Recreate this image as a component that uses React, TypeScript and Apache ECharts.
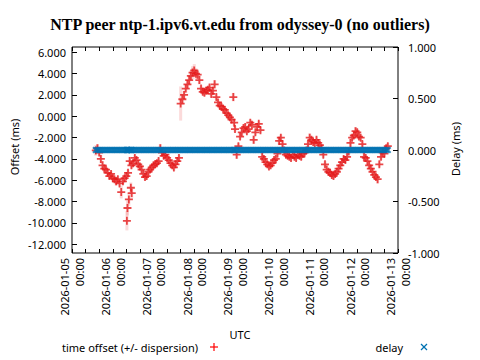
import React, { useEffect, useRef } from "react";
import * as echarts from "echarts";

const timeLabels: string[] = [
  "2026-01-05 14:00", "2026-01-05 15:00", "2026-01-05 16:00", "2026-01-05 17:00", "2026-01-05 18:00",
  "2026-01-05 19:00", "2026-01-05 20:00", "2026-01-05 21:00", "2026-01-05 22:00", "2026-01-05 23:00",

  "2026-01-06 00:00", "2026-01-06 01:00", "2026-01-06 02:00", "2026-01-06 03:00", "2026-01-06 04:00",
  "2026-01-06 05:00", "2026-01-06 06:00", "2026-01-06 07:00", "2026-01-06 08:00", "2026-01-06 08:20",
  "2026-01-06 08:40", "2026-01-06 09:00", "2026-01-06 09:30", "2026-01-06 10:00", "2026-01-06 10:40",
  "2026-01-06 11:00", "2026-01-06 11:10", "2026-01-06 12:00", "2026-01-06 13:00", "2026-01-06 14:00",
  "2026-01-06 15:00", "2026-01-06 16:00", "2026-01-06 17:00", "2026-01-06 18:00", "2026-01-06 19:00",
  "2026-01-06 20:00", "2026-01-06 21:00", "2026-01-06 22:00", "2026-01-06 23:00",

  "2026-01-07 00:00", "2026-01-07 01:00", "2026-01-07 02:00", "2026-01-07 03:00", "2026-01-07 04:00",
  "2026-01-07 05:00", "2026-01-07 06:00", "2026-01-07 07:00", "2026-01-07 08:00", "2026-01-07 09:00",
  "2026-01-07 10:00", "2026-01-07 11:00", "2026-01-07 12:00", "2026-01-07 13:00", "2026-01-07 14:00",
  "2026-01-07 15:00", "2026-01-07 16:00", "2026-01-07 17:00", "2026-01-07 18:00", "2026-01-07 19:00",
  "2026-01-07 20:00", "2026-01-07 21:00", "2026-01-07 22:00", "2026-01-07 23:00",

  "2026-01-08 00:00", "2026-01-08 01:00", "2026-01-08 02:00", "2026-01-08 03:00", "2026-01-08 04:00",
  "2026-01-08 05:00", "2026-01-08 06:00", "2026-01-08 07:00", "2026-01-08 08:00", "2026-01-08 09:00",
  "2026-01-08 10:00", "2026-01-08 11:00", "2026-01-08 12:00", "2026-01-08 13:00", "2026-01-08 14:00",
  "2026-01-08 15:00", "2026-01-08 16:00", "2026-01-08 17:00", "2026-01-08 18:00", "2026-01-08 19:00",
  "2026-01-08 20:00", "2026-01-08 21:00", "2026-01-08 22:00", "2026-01-08 23:00", "2026-01-08 23:30",

  "2026-01-09 00:00", "2026-01-09 01:00", "2026-01-09 02:00", "2026-01-09 03:00", "2026-01-09 04:00",
  "2026-01-09 05:00", "2026-01-09 06:00", "2026-01-09 07:00", "2026-01-09 08:00", "2026-01-09 09:00",
  "2026-01-09 10:00", "2026-01-09 11:00", "2026-01-09 12:00", "2026-01-09 13:00", "2026-01-09 14:00",
  "2026-01-09 15:00", "2026-01-09 16:00", "2026-01-09 17:00", "2026-01-09 18:00", "2026-01-09 19:00",
  "2026-01-09 20:00", "2026-01-09 21:00", "2026-01-09 22:00", "2026-01-09 23:00",

  "2026-01-10 00:00", "2026-01-10 01:00", "2026-01-10 02:00", "2026-01-10 03:00", "2026-01-10 04:00",
  "2026-01-10 05:00", "2026-01-10 06:00", "2026-01-10 07:00", "2026-01-10 08:00", "2026-01-10 09:00",
  "2026-01-10 10:00", "2026-01-10 11:00", "2026-01-10 12:00", "2026-01-10 13:00", "2026-01-10 14:00",
  "2026-01-10 15:00", "2026-01-10 16:00", "2026-01-10 17:00", "2026-01-10 18:00", "2026-01-10 19:00",
  "2026-01-10 20:00", "2026-01-10 21:00", "2026-01-10 22:00", "2026-01-10 23:00",

  "2026-01-11 00:00", "2026-01-11 01:00", "2026-01-11 02:00", "2026-01-11 03:00", "2026-01-11 04:00",
  "2026-01-11 05:00", "2026-01-11 06:00", "2026-01-11 07:00", "2026-01-11 08:00", "2026-01-11 09:00",
  "2026-01-11 10:00", "2026-01-11 11:00", "2026-01-11 12:00", "2026-01-11 13:00", "2026-01-11 14:00",
  "2026-01-11 15:00", "2026-01-11 16:00", "2026-01-11 17:00", "2026-01-11 18:00", "2026-01-11 19:00",
  "2026-01-11 20:00", "2026-01-11 21:00", "2026-01-11 22:00", "2026-01-11 23:00",

  "2026-01-12 00:00", "2026-01-12 01:00", "2026-01-12 02:00", "2026-01-12 03:00", "2026-01-12 04:00",
  "2026-01-12 05:00", "2026-01-12 06:00", "2026-01-12 07:00", "2026-01-12 08:00", "2026-01-12 09:00",
  "2026-01-12 10:00", "2026-01-12 11:00", "2026-01-12 12:00", "2026-01-12 13:00", "2026-01-12 14:00",
  "2026-01-12 15:00", "2026-01-12 16:00", "2026-01-12 17:00", "2026-01-12 18:00",
];

const offsetMs: number[] = [
  -3.2, -3.0, -3.4, -4.0, -4.6, -4.9, -5.0, -5.3, -5.6, -5.4,
  -5.8, -5.9, -6.1, -5.9, -6.3, -7.1, -6.1, -5.8, -5.6, -9.8,
  -8.6, -5.3, -7.8, -4.2, -6.7, -4.6, -7.2, -4.4, -3.9, -4.1,
  -4.5, -4.7, -5.0, -5.4, -5.7, -5.6, -5.2, -5.0, -4.8,
  -4.6, -4.5, -4.4, -4.2, -3.0, -3.4, -3.7, -3.6, -3.9, -4.1,
  -4.4, -4.6, -4.8, -4.5, -4.2, -3.9, 1.2, 1.6, 2.0, 2.6,
  3.0, 3.4, 3.8, 4.1,
  4.3, 4.0, 3.9, 3.4, 2.6, 2.3, 2.2, 2.4, 2.5, 2.7,
  2.1, 2.4, 3.0, 1.8, 1.3, 1.0, 0.9, 0.7, 0.6, 0.3,
  0.1, -0.1, -0.3, 1.8, -0.6,
  -1.2, -3.6, -2.8, -1.9, -1.5, -1.1, -1.0, -1.4, -1.2, -0.6,
  -0.8, -2.2, -1.5, -1.0, -0.7, -1.3, -3.8, -4.0, -4.3, -4.5,
  -4.7, -4.6, -4.4, -4.1,
  -4.0, -3.5, -2.3, -2.0, -2.6, -3.2, -3.6, -3.7, -3.8, -3.9,
  -3.6, -3.8, -3.9, -3.6, -3.7, -3.8, -3.5, -3.4, -3.2, -2.6,
  -2.0, -2.2, -2.4, -2.5,
  -2.2, -2.5, -2.7, -3.0, -3.6, -4.5, -5.0, -5.2, -5.3, -5.5,
  -5.6, -5.4, -5.2, -4.9, -4.6, -4.3, -4.0, -4.1, -3.8, -3.3,
  -2.5, -2.0, -1.8, -1.4,
  -1.5, -1.9, -2.0, -2.6, -3.8, -3.9, -4.2, -4.6, -4.9, -5.2,
  -5.5, -5.7, -5.9, -4.5, -3.8, -3.4, -3.5, -3.0, -2.8,
];

const dispersionMs: number[] = [
  0.5, 0.4, 0.3, 0.4, 0.4, 0.3, 0.3, 0.3, 0.3, 0.3,
  0.3, 0.3, 0.4, 0.3, 0.3, 0.6, 0.3, 0.3, 0.3, 0.9,
  0.7, 0.3, 0.6, 0.4, 0.5, 0.3, 0.5, 0.3, 0.3, 0.3,
  0.3, 0.3, 0.3, 0.3, 0.3, 0.3, 0.3, 0.3, 0.3,
  0.3, 0.3, 0.3, 0.3, 0.4, 0.3, 0.3, 0.3, 0.3, 0.3,
  0.3, 0.3, 0.3, 0.3, 0.3, 0.3, 1.6, 0.5, 0.4, 0.4,
  0.4, 0.5, 0.5, 0.6,
  0.6, 0.5, 0.4, 0.4, 0.3, 0.3, 0.3, 0.3, 0.3, 0.3,
  0.3, 0.3, 0.4, 0.3, 0.3, 0.3, 0.3, 0.3, 0.3, 0.3,
  0.3, 0.3, 0.3, 0.4, 0.3,
  0.3, 0.4, 0.3, 0.3, 0.3, 0.3, 0.3, 0.3, 0.3, 0.3,
  0.3, 0.4, 0.3, 0.3, 0.3, 0.3, 0.4, 0.3, 0.3, 0.3,
  0.3, 0.3, 0.3, 0.3,
  0.3, 0.3, 0.4, 0.3, 0.3, 0.3, 0.3, 0.3, 0.3, 0.3,
  0.3, 0.3, 0.3, 0.3, 0.3, 0.3, 0.3, 0.3, 0.3, 0.3,
  0.4, 0.3, 0.3, 0.3,
  0.3, 0.3, 0.3, 0.3, 0.3, 0.3, 0.4, 0.3, 0.3, 0.3,
  0.3, 0.3, 0.3, 0.3, 0.3, 0.3, 0.3, 0.3, 0.3, 0.3,
  0.4, 0.3, 0.3, 0.4,
  0.3, 0.3, 0.3, 0.3, 0.4, 0.3, 0.3, 0.3, 0.3, 0.3,
  0.3, 0.3, 0.4, 0.3, 0.3, 0.3, 0.3, 0.3, 0.3,
];

const delayMs: number[] = [
  0, 0, 0, 0, 0, 0, 0, 0, 0, 0, 0, 0, 0, 0, 0, 0, 0, 0, 0, 0,
  0, 0, 0, 0, 0, 0, 0, 0, 0, 0, 0, 0, 0, 0, 0, 0, 0, 0, 0, 0,
  0, 0, 0, 0, 0, 0, 0, 0, 0, 0, 0, 0, 0, 0, 0, 0, 0, 0, 0, 0,
  0, 0, 0, 0, 0, 0, 0, 0, 0, 0, 0, 0, 0, 0, 0, 0, 0, 0, 0, 0,
  0, 0, 0, 0, 0, 0, 0, 0, 0, 0, 0, 0, 0, 0, 0, 0, 0, 0, 0, 0,
  0, 0, 0, 0, 0, 0, 0, 0, 0, 0, 0, 0, 0, 0, 0, 0, 0, 0, 0, 0,
  0, 0, 0, 0, 0, 0, 0, 0, 0, 0, 0, 0, 0, 0, 0, 0, 0, 0, 0, 0,
  0, 0, 0, 0, 0, 0, 0, 0, 0, 0, 0, 0, 0, 0, 0, 0, 0, 0, 0, 0,
  0, 0, 0, 0, 0, 0, 0, 0, 0, 0, 0, 0, 0, 0, 0, 0, 0, 0, 0,
];

const offsetTicks = [-12, -10, -8, -6, -4, -2, 0, 2, 4, 6];
const xStart = "2026-01-05 00:00";
const xEnd = "2026-01-13 00:00";

const TITLE = "NTP peer ntp-1.ipv6.vt.edu from odyssey-0 (no outliers)";
const FONT = "Noto Sans";

function parseUTC(s: string): number {
  const [d, t] = s.split(" ");
  const [Y, M, D] = d.split("-").map(Number);
  const [h, m] = t.split(":").map(Number);
  return Date.UTC(Y, M - 1, D, h, m);
}

const pad = (n: number) => (n < 10 ? "0" + n : "" + n);

const PLUS = "path://M3.9,0H6.1V3.9H10V6.1H6.1V10H3.9V6.1H0V3.9H3.9Z";
const CROSS = "path://M0,2L2,0L5,3L8,0L10,2L7,5L10,8L8,10L5,7L2,10L0,8L3,5Z";

export default function App() {
  const ref = useRef<HTMLDivElement>(null);
  useEffect(() => {
    if (!ref.current) return;
    const chart = echarts.init(ref.current, null, { renderer: "svg" });
    const n = Math.min(timeLabels.length, offsetMs.length, dispersionMs.length);
    const times = timeLabels.map(parseUTC);
    const offsetData: number[][] = [];
    const errData: number[][] = [];
    for (let i = 0; i < n; i++) {
      offsetData.push([times[i], offsetMs[i]]);
      errData.push([times[i], offsetMs[i], dispersionMs[i]]);
    }
    const delayData: number[][] = [];
    for (let i = 0; i < Math.min(times.length, delayMs.length); i++) delayData.push([times[i], delayMs[i]]);
    const H8 = 8 * 3600 * 1000;
    const xmin = parseUTC(xStart);
    const xmax = parseUTC(xEnd);

    const xLabelFmt = (v: number) => {
      const d = new Date(v);
      if (d.getUTCHours() !== 0) return "";
      return `${d.getUTCFullYear()}-${pad(d.getUTCMonth() + 1)}-${pad(d.getUTCDate())}\n${pad(d.getUTCHours())}:${pad(d.getUTCMinutes())}`;
    };

    chart.setOption({
      animation: false,
      backgroundColor: "#ffffff",
      grid: {
        left: 72, right: 82, top: 47, bottom: 107,
        show: true, borderColor: "#000", borderWidth: 1, backgroundColor: "transparent",
      },
      title: {
        text: TITLE,
        left: "center",
        top: 11,
        textStyle: { fontFamily: "Liberation Serif", fontWeight: "bold", fontSize: 16, color: "#000" },
      },
      xAxis: [
        {
          type: "value", min: xmin, max: xmax, interval: H8,
          axisLine: { show: false, onZero: false },
          axisTick: { show: true, inside: true, length: 4, lineStyle: { color: "#000" } },
          splitLine: { show: false },
          axisLabel: {
            formatter: xLabelFmt, rotate: 90, margin: 5,
            fontFamily: FONT, fontSize: 11, color: "#000", lineHeight: 14.5,
            showMinLabel: true, showMaxLabel: true, hideOverlap: false,
          },
        },
        {
          type: "value", position: "top", min: xmin, max: xmax, interval: H8,
          axisLine: { show: false, onZero: false },
          axisTick: { show: true, inside: true, length: 4, lineStyle: { color: "#000" } },
          splitLine: { show: false },
          axisLabel: { show: false },
        },
      ],
      yAxis: [
        {
          type: "value", min: -12.82, max: 6.5,
          axisLine: { show: false, onZero: false },
          axisTick: { show: true, inside: true, length: 5, customValues: offsetTicks, lineStyle: { color: "#000" } },
          splitLine: { show: false },
          axisLabel: {
            customValues: offsetTicks,
            formatter: (v: number) => v.toFixed(3),
            fontFamily: FONT, fontSize: 11, color: "#000", margin: 6,
          },
        },
        {
          type: "value", min: -1, max: 1, interval: 0.5,
          axisLine: { show: false, onZero: false },
          axisTick: { show: true, inside: true, length: 5, lineStyle: { color: "#000" } },
          splitLine: { show: false },
          axisLabel: {
            formatter: (v: number) => v.toFixed(3),
            fontFamily: FONT, fontSize: 11, color: "#000", margin: 10,
            showMinLabel: true, showMaxLabel: true,
          },
        },
      ],
      series: [
        {
          type: "custom",
          xAxisIndex: 0, yAxisIndex: 0,
          data: errData,
          encode: { x: 0, y: 1 },
          z: 1,
          renderItem: (params: any, api: any) => {
            const x = api.value(0);
            const v = api.value(1);
            const d = api.value(2);
            const p1 = api.coord([x, v - d]);
            const p2 = api.coord([x, v + d]);
            return {
              type: "line",
              shape: { x1: p1[0], y1: p1[1], x2: p2[0], y2: p2[1] },
              style: { stroke: "rgba(235,70,70,0.2)", lineWidth: 3 },
            };
          },
        },
        {
          type: "scatter",
          name: "time offset (+/- dispersion)",
          xAxisIndex: 0, yAxisIndex: 0,
          data: offsetData,
          symbol: PLUS, symbolSize: 8,
          itemStyle: { color: "#e41a1c" },
          z: 2,
        },
        {
          type: "scatter",
          name: "delay",
          xAxisIndex: 0, yAxisIndex: 1,
          data: delayData,
          symbol: CROSS, symbolSize: 7,
          itemStyle: { color: "#0072b2" },
          z: 3,
        },
      ],
      graphic: [
        { type: "text", x: 14, y: 147, rotation: Math.PI / 2,
          style: { text: "Offset (ms)", fontFamily: FONT, fontSize: 11, fill: "#000", align: "center", verticalAlign: "middle" } },
        { type: "text", x: 455, y: 149, rotation: Math.PI / 2,
          style: { text: "Delay (ms)", fontFamily: FONT, fontSize: 11, fill: "#000", align: "center", verticalAlign: "middle" } },
        { type: "text", x: 240, y: 334,
          style: { text: "UTC", fontFamily: FONT, fontSize: 11, fill: "#000", align: "center", verticalAlign: "middle" } },
        { type: "text", x: 62, y: 347,
          style: { text: "time offset (+/- dispersion)", fontFamily: FONT, fontSize: 11, fill: "#000", align: "left", verticalAlign: "middle" } },
        { type: "line", shape: { x1: 210, y1: 347, x2: 218, y2: 347 }, style: { stroke: "#ff0000", lineWidth: 1.2 } },
        { type: "line", shape: { x1: 214, y1: 343, x2: 214, y2: 351 }, style: { stroke: "#ff0000", lineWidth: 1.2 } },
        { type: "text", x: 403, y: 347,
          style: { text: "delay", fontFamily: FONT, fontSize: 11, fill: "#000", align: "right", verticalAlign: "middle" } },
        { type: "line", shape: { x1: 421, y1: 344, x2: 427, y2: 350 }, style: { stroke: "#0072b2", lineWidth: 1.2 } },
        { type: "line", shape: { x1: 421, y1: 350, x2: 427, y2: 344 }, style: { stroke: "#0072b2", lineWidth: 1.2 } },
      ],
    });
    return () => chart.dispose();
  }, []);
  return <div ref={ref} style={{ position: "absolute", left: 0, top: 0, width: 480, height: 360 }} />;
}
